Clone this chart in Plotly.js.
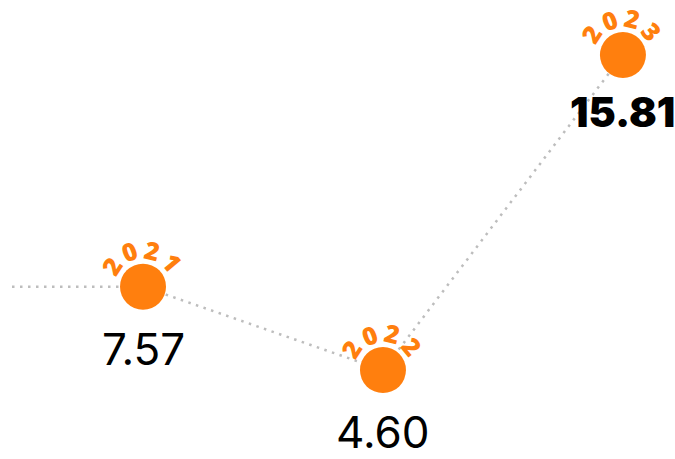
<!DOCTYPE html>
<html>
<head>
<meta charset="utf-8">
<script src="https://cdn.plot.ly/plotly-3.0.1.min.js"></script>
<style>
  html, body { margin: 0; padding: 0; background: #ffffff; }
  #chart { width: 675px; height: 459px; }
</style>
</head>
<body>
<div id="chart"></div>
<script>
// Yearly values
const years = [2021, 2022, 2023];
const values = [7.57, 4.60, 15.81];
const yearLabels = ['2021', '2022', '2023'];
const valueLabels = ['7.57', '4.60', '15.81'];

const ORANGE = '#ff7f0e';
const LINE_GREY = '#bdbdbd';

const xRange = [2020.404, 2023.217];
const yRange = [1.438, 17.767];

// dotted lead-in from the left edge to the first year
const leadIn = {
  x: [xRange[0] + 0.05, years[0]],
  y: [values[0], values[0]],
  mode: 'lines',
  line: { color: LINE_GREY, width: 2.5, dash: '2.5px,5.5px' },
  hoverinfo: 'skip',
  showlegend: false
};

const series = {
  x: years,
  y: values,
  mode: 'lines+markers',
  line: { color: LINE_GREY, width: 2.5, dash: '2.5px,5.5px' },
  marker: { color: ORANGE, size: 46, line: { width: 0 } },
  hoverinfo: 'skip',
  showlegend: false,
  cliponaxis: false
};

const annotations = [];

// year digits set on an arc over each marker
const arcAngles = [-57, -21, 14, 50];
const arcRadius = 38;
years.forEach((yr, i) => {
  yearLabels[i].split('').forEach((ch, j) => {
    const a = arcAngles[j] * Math.PI / 180;
    annotations.push({
      x: yr, y: values[i],
      xref: 'x', yref: 'y',
      text: ch,
      showarrow: false,
      xanchor: 'center', yanchor: 'middle',
      xshift: arcRadius * Math.sin(a),
      yshift: arcRadius * Math.cos(a),
      textangle: arcAngles[j],
      font: { family: '"Open Sans", Inter, sans-serif', size: 25, weight: 800, color: ORANGE }
    });
  });
});

// value labels under the markers, the highest one set heavy
const maxVal = Math.max(...values);
years.forEach((yr, i) => {
  const top = values[i] === maxVal;
  annotations.push({
    x: yr, y: values[i],
    xref: 'x', yref: 'y',
    text: valueLabels[i],
    showarrow: false,
    xanchor: 'center', yanchor: 'middle',
    yshift: top ? -57 : -62,
    font: top
      ? { family: 'Inter, "Open Sans", sans-serif', size: 41, weight: 900, color: '#000000' }
      : { family: 'Inter, "Open Sans", sans-serif', size: 44, weight: 400, color: '#000000' }
  });
});

const layout = {
  width: 675,
  height: 459,
  margin: { l: 0, r: 0, t: 0, b: 0, pad: 0 },
  paper_bgcolor: '#ffffff',
  plot_bgcolor: '#ffffff',
  xaxis: { range: xRange, visible: false, showgrid: false, zeroline: false },
  yaxis: { range: yRange, visible: false, showgrid: false, zeroline: false },
  annotations: annotations,
  showlegend: false
};

Plotly.newPlot('chart', [leadIn, series], layout, { staticPlot: true, displayModeBar: false });
</script>
</body>
</html>
